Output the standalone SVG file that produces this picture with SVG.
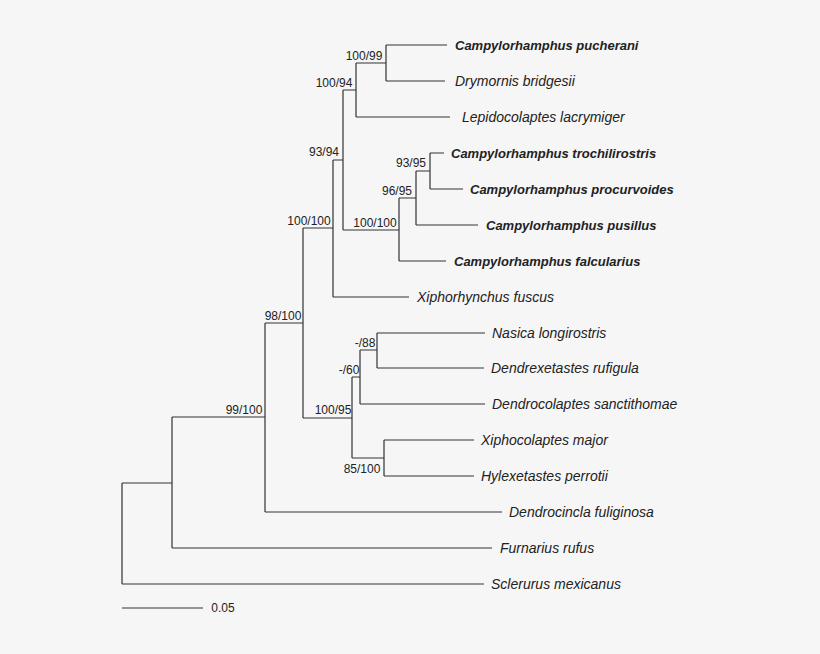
<svg xmlns="http://www.w3.org/2000/svg" width="820" height="654" viewBox="0 0 820 654">
<style>
.b{stroke:#333;stroke-width:1.2;fill:none}
.t{font-family:"Liberation Sans",Arial,sans-serif;font-size:14px;font-style:italic;fill:#222}
.bd{font-weight:bold;font-size:13px}
.s{font-family:"Liberation Sans",Arial,sans-serif;font-size:12px;fill:#222;text-anchor:middle}
</style>
<rect width="820" height="654" fill="#f6f6f6"/>
<g id="connectors" class="b">
<path d="M386,45H447M386,81H445M386,45V81"/>
<path d="M356,117H450M356,63H386M356,63V117"/>
<path d="M430,153H444M430,189H463M430,153V189"/>
<path d="M416,171H430M416,225H478M416,171V225"/>
<path d="M399,198H416M399,261H446M399,198V261"/>
<path d="M343,90H356M343,230H399M343,90V230"/>
<path d="M333,160H343M333,297H409M333,160V297"/>
<path d="M377,333H485M377,368H484M377,333V368"/>
<path d="M360,350H377M360,404H485M360,350V404"/>
<path d="M384,440H474M384,476H474M384,440V476"/>
<path d="M352,377H360M352,458H384M352,377V458"/>
<path d="M303,228H333M303,418H352M303,228V418"/>
<path d="M265,323H303M265,512H502M265,323V512"/>
<path d="M172,417H265M172,548H492M172,417V548"/>
<path d="M122,483H172M122,584H484M122,483V584"/>
<path d="M122,608H203"/>
</g>
<g id="tips">
<text id="t1" class="t bd" x="455" y="50">Campylorhamphus pucherani</text>
<text id="t2" class="t" x="455" y="86">Drymornis bridgesii</text>
<text id="t3" class="t" x="462" y="122">Lepidocolaptes lacrymiger</text>
<text id="t4" class="t bd" x="451" y="158">Campylorhamphus trochilirostris</text>
<text id="t5" class="t bd" x="470" y="194">Campylorhamphus procurvoides</text>
<text id="t6" class="t bd" x="486" y="230">Campylorhamphus pusillus</text>
<text id="t7" class="t bd" x="454" y="266">Campylorhamphus falcularius</text>
<text id="t8" class="t" x="417" y="302">Xiphorhynchus fuscus</text>
<text id="t9" class="t" x="492" y="338">Nasica longirostris</text>
<text id="t10" class="t" x="491" y="373">Dendrexetastes rufigula</text>
<text id="t11" class="t" x="492" y="409">Dendrocolaptes sanctithomae</text>
<text id="t12" class="t" x="481" y="445">Xiphocolaptes major</text>
<text id="t13" class="t" x="481" y="481">Hylexetastes perrotii</text>
<text id="t14" class="t" x="509" y="517">Dendrocincla fuliginosa</text>
<text id="t15" class="t" x="500" y="553">Furnarius rufus</text>
<text id="t16" class="t" x="491" y="589">Sclerurus mexicanus</text>
</g>
<g id="support">
<text class="s" x="364" y="60">100/99</text>
<text class="s" x="334" y="87">100/94</text>
<text class="s" x="411" y="167">93/95</text>
<text class="s" x="397" y="195">96/95</text>
<text class="s" x="375" y="227">100/100</text>
<text class="s" x="324" y="156">93/94</text>
<text class="s" x="309" y="225">100/100</text>
<text class="s" x="365" y="347">-/88</text>
<text class="s" x="349" y="374">-/60</text>
<text class="s" x="362" y="473">85/100</text>
<text class="s" x="333" y="414">100/95</text>
<text class="s" x="283" y="320">98/100</text>
<text class="s" x="244" y="414">99/100</text>
<text class="s" x="223" y="612">0.05</text>
</g>
</svg>
